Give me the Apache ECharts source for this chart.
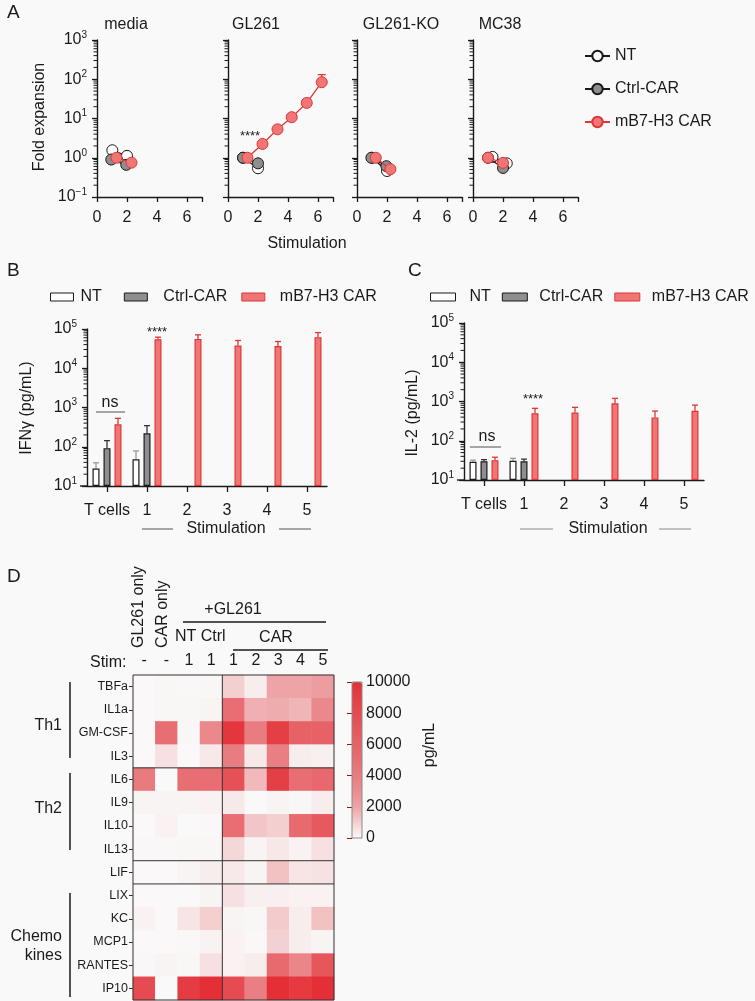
<!DOCTYPE html>
<html><head><meta charset="utf-8">
<script src="https://cdn.jsdelivr.net/npm/echarts@6/dist/echarts.min.js"></script>
<style>html,body{margin:0;padding:0;background:#f9f9f9}#c{width:755px;height:1001px}</style>
</head><body><div id="c"></div>
<script>
// ===== Panel A: fold expansion, points are [stimulation, fold] =====
const aTitles = ['media', 'GL261', 'GL261-KO', 'MC38'];
const mediaNT   = [[1.02, 1.55], [2.0, 1.12]];
const mediaCtrl = [[0.95, 0.9], [1.95, 0.66]];
const mediaCAR  = [[1.3, 1.0], [2.3, 0.75]];
const glNT      = [[1.0, 1.0], [2.0, 0.54]];
const glCtrl    = [[1.0, 1.0], [2.0, 0.72]];
const glCAR     = [[1.3, 1.0], [2.3, 2.25], [3.3, 5.3], [4.25, 10.8], [5.25, 25], [6.25, 84]];
const glCARErr  = [[6.25, 84, 131]];
const koNT      = [[1.0, 1.0], [2.0, 0.46]];
const koCtrl    = [[0.96, 1.0], [1.96, 0.61]];
const koCAR     = [[1.25, 1.0], [2.23, 0.51]];
const mcNT      = [[1.3, 1.05], [2.25, 0.72]];
const mcCtrl    = [[1.0, 1.0], [2.0, 0.55]];
const mcCAR     = [[1.0, 1.0], [2.0, 0.74]];
const aXTicks = [0, 2, 4, 6];

// ===== Panels B / C: cytokines (pg/mL) =====
const bcCats = ['T cells', '1', '2', '3', '4', '5'];
const ifnNT      = [28, 48, null, null, null, null];
const ifnNTErr   = [39, 78, null, null, null, null];
const ifnCtrl    = [92, 220, null, null, null, null];
const ifnCtrlErr = [143, 345, null, null, null, null];
const ifnCAR     = [375, 55000, 56000, 38000, 37000, 62000];
const ifnCARErr  = [530, 62000, 71000, 51000, 48000, 81000];
const il2NT      = [29, 31, null, null, null, null];
const il2NTErr   = [32, 35.5, null, null, null, null];
const il2Ctrl    = [30, 30, null, null, null, null];
const il2CtrlErr = [33, 34, null, null, null, null];
const il2CAR     = [32, 500, 525, 900, 394, 580];
const il2CARErr  = [38, 670, 710, 1200, 570, 810];

// ===== Panel D: heatmap (pg/mL) =====
const heatCols = ['-', '-', '1', '1', '1', '2', '3', '4', '5'];
const heatRows = ['TBFa', 'IL1a', 'GM-CSF', 'IL3', 'IL6', 'IL9', 'IL10', 'IL13', 'LIF', 'LIX', 'KC', 'MCP1', 'RANTES', 'IP10'];
const th1Values = [
  [50, 100, 80, 100, 1000, 300, 2000, 2000, 2300],
  [50, 100, 100, 150, 5000, 1700, 1800, 1600, 3300],
  [50, 5000, 100, 3300, 9500, 4000, 9000, 6000, 6000],
  [50, 600, 50, 400, 4000, 400, 3800, 300, 250]
];
const th2Values = [
  [4100, 20, 5000, 5000, 7500, 1500, 9000, 5000, 5500],
  [150, 150, 150, 200, 400, 50, 150, 100, 300],
  [50, 200, 30, 80, 5000, 1200, 1000, 5300, 6800],
  [80, 80, 100, 100, 800, 150, 450, 200, 600]
];
const lifValues = [
  [50, 50, 150, 300, 400, 150, 1300, 500, 550]
];
const chemoValues = [
  [50, 50, 50, 150, 600, 250, 250, 200, 200],
  [200, 50, 500, 1000, 150, 100, 1100, 300, 1300],
  [50, 50, 80, 200, 200, 80, 950, 300, 150],
  [80, 150, 100, 600, 200, 300, 5300, 3500, 7000],
  [8000, 20, 9200, 10000, 8000, 3800, 10000, 9300, 10000]
];
const colorbarTicks = [0, 2000, 4000, 6000, 8000, 10000];

// ===== styling / layout =====
const FONT = 'Liberation Sans, Arial, Helvetica, sans-serif';
const INK = '#1a1a1a';
const RED_FILL = '#f07676', RED_EDGE = '#dc3636', GREY_FILL = '#8e8e8e';
const NAMES = ['NT', 'Ctrl-CAR', 'mB7-H3 CAR'];
const aLefts = [97, 228, 357, 473];
const aTitleX = [126, 256, 401, 500];
const HM = {left: 133, top: 675, width: 201, height: 325};
const CB = {left: 352, top: 682, width: 10, height: 156};

const aNT = [mediaNT, glNT, koNT, mcNT];
const aCtrl = [mediaCtrl, glCtrl, koCtrl, mcCtrl];
const aCAR = [mediaCAR, glCAR, koCAR, mcCAR];
const aErr = [[], glCARErr, [], []];

const supFmt = v => {
  const e = Math.round(Math.log10(v));
  return '{b|10}{s|' + (e < 0 ? '\u2212' + (-e) : e) + '}';
};
const supRich = {
  b: {fontSize: 16, fontFamily: FONT, color: INK, lineHeight: 20},
  s: {fontSize: 10, fontFamily: FONT, color: INK, lineHeight: 10, verticalAlign: 'top'}
};
const axLine = {show: true, onZero: false, lineStyle: {color: INK, width: 1.4}};
const axTick = {show: true, length: 5, lineStyle: {color: INK, width: 1.3}};
// log-axis minor tick positions (2..9 x each decade)
function logMinor(lo, hi) {
  const out = [];
  for (let e = Math.round(Math.log10(lo)); e < Math.round(Math.log10(hi)); e++) {
    for (let m = 2; m <= 9; m++) out.push(+(m * Math.pow(10, e)).toPrecision(6));
  }
  return out;
}

const grids = [], xAxes = [], yAxes = [], series = [];
const minorSpecs = []; // [axis index, grid left, lo, hi]
aLefts.forEach((l, i) => {
  grids.push({left: l, top: 40, width: 105, height: 157, outerBoundsMode: 'none'});
  xAxes.push({gridIndex: i, type: 'value', min: 0, max: 7, interval: 2,
    axisLine: axLine, axisTick: axTick, splitLine: {show: false},
    axisLabel: {fontSize: 16, fontFamily: FONT, color: INK, margin: 13,
      customValues: aXTicks}});
  yAxes.push({gridIndex: i, type: 'log', logBase: 10, min: 0.1, max: 1000,
    axisLine: axLine, axisTick: axTick, splitLine: {show: false},
    axisLabel: {show: i === 0, margin: 10, formatter: supFmt, rich: supRich}});
  minorSpecs.push([i, l, 0.1, 1000]);
});
// B, C
const bcLefts = [87, 464];
grids.push({left: 87, top: 329, width: 240, height: 157, outerBoundsMode: 'none'});
grids.push({left: 464, top: 323, width: 240, height: 157, outerBoundsMode: 'none'});
[4, 5].forEach((g, j) => {
  xAxes.push({gridIndex: g, type: 'category', data: bcCats,
    axisLine: axLine, axisTick: {show: true, alignWithLabel: true, length: 6, lineStyle: {color: INK, width: 1.3}},
    axisLabel: {fontSize: 16, fontFamily: FONT, color: INK, margin: 17, interval: 0}});
  yAxes.push({gridIndex: g, type: 'log', logBase: 10, min: 10, max: 100000, startValue: 10,
    axisLine: axLine, axisTick: axTick, splitLine: {show: false},
    axisLabel: {margin: 10, formatter: supFmt, rich: supRich}});
  minorSpecs.push([g, bcLefts[j], 10, 100000]);
});
// heatmap
grids.push(Object.assign({outerBoundsMode: 'none'}, HM));
xAxes.push({gridIndex: 6, type: 'category', data: heatCols, position: 'top',
  axisLine: {show: false}, axisTick: {show: false}, splitLine: {show: false},
  axisLabel: {fontSize: 16, fontFamily: FONT, color: INK, margin: 6, interval: 0}});
yAxes.push({gridIndex: 6, type: 'category', data: heatRows, inverse: true,
  axisLine: {show: false}, splitLine: {show: false},
  axisTick: {show: true, alignWithLabel: true, length: 4, lineStyle: {color: '#333'}},
  axisLabel: {fontSize: 12.5, fontFamily: FONT, color: INK, margin: 5, interval: 0}});
// colorbar axis
grids.push(Object.assign({outerBoundsMode: 'none'}, CB));
xAxes.push({gridIndex: 7, type: 'value', show: false, min: 0, max: 1});
yAxes.push({gridIndex: 7, type: 'value', min: 0, max: 10000, interval: 2000, position: 'right',
  axisLine: {show: false}, splitLine: {show: false},
  axisTick: {show: true, inside: true, length: 5, lineStyle: {color: '#8a1c1c', width: 1}},
  axisLabel: {fontSize: 16, fontFamily: FONT, color: INK, margin: 4, customValues: colorbarTicks,
    formatter: v => String(v)}});

// Panel A series
const ptStyles = [
  {color: '#ffffff', borderColor: INK, line: INK},
  {color: GREY_FILL, borderColor: INK, line: INK},
  {color: RED_FILL, borderColor: RED_EDGE, line: RED_EDGE}
];
for (let i = 0; i < 4; i++) {
  [aNT[i], aCtrl[i], aCAR[i]].forEach((d, k) => {
    series.push({type: 'line', name: NAMES[k], xAxisIndex: i, yAxisIndex: i, data: d,
      symbol: 'circle', symbolSize: 11, z: 3 + k,
      lineStyle: {color: ptStyles[k].line, width: 1.3},
      itemStyle: {color: ptStyles[k].color, borderColor: ptStyles[k].borderColor, borderWidth: 1},
      emphasis: {disabled: true}, animation: false});
  });
  if (aErr[i].length) {
    series.push({type: 'custom', xAxisIndex: i, yAxisIndex: i, data: aErr[i], z: 2,
      renderItem: (p, api) => {
        const a = api.coord([api.value(0), api.value(1)]);
        const b = api.coord([api.value(0), api.value(2)]);
        return {type: 'group', children: [
          {type: 'line', shape: {x1: a[0], y1: a[1], x2: b[0], y2: b[1]}, style: {stroke: RED_EDGE, lineWidth: 1.3}},
          {type: 'line', shape: {x1: b[0] - 4, y1: b[1], x2: b[0] + 4, y2: b[1]}, style: {stroke: RED_EDGE, lineWidth: 1.3}}
        ]};
      }, animation: false});
  }
}

// Panels B / C series
const barStyles = [
  {color: '#ffffff', borderColor: INK, err: '#9a9a9a'},
  {color: GREY_FILL, borderColor: INK, err: '#333333'},
  {color: RED_FILL, borderColor: RED_EDGE, err: RED_EDGE}
];
function errRender(slot, color) {
  return (params, api) => {
    const c = api.value(0), v = api.value(1), e = api.value(2);
    const band = api.size([1, 0])[0];
    const off = (slot - 1) * band * 0.275;
    const p = api.coord([c, v]), q = api.coord([c, e]);
    const x = p[0] + off;
    return {type: 'group', children: [
      {type: 'line', shape: {x1: x, y1: p[1], x2: x, y2: q[1]}, style: {stroke: color, lineWidth: 1.3}},
      {type: 'line', shape: {x1: x - 3, y1: q[1], x2: x + 3, y2: q[1]}, style: {stroke: color, lineWidth: 1.3}}
    ]};
  };
}
[[4, [ifnNT, ifnCtrl, ifnCAR], [ifnNTErr, ifnCtrlErr, ifnCARErr]],
 [5, [il2NT, il2Ctrl, il2CAR], [il2NTErr, il2CtrlErr, il2CARErr]]].forEach(([g, vals, errs]) => {
  vals.forEach((v, k) => {
    series.push({type: 'bar', name: NAMES[k], xAxisIndex: g, yAxisIndex: g, data: v,
      barWidth: 7, barGap: '57%', clip: true,
      itemStyle: {color: barStyles[k].color, borderColor: barStyles[k].borderColor, borderWidth: 1.2},
      emphasis: {disabled: true}, animation: false});
  });
  vals.forEach((v, k) => {
    const d = [];
    v.forEach((y, c) => { if (y != null) d.push([c, y, errs[k][c]]); });
    series.push({type: 'custom', xAxisIndex: g, yAxisIndex: g, data: d, z: 1,
      renderItem: errRender(k, barStyles[k].err), animation: false});
  });
});

// heatmap series
const allHeat = th1Values.concat(th2Values, lifValues, chemoValues);
const heatData = [];
allHeat.forEach((row, r) => row.forEach((v, c) => heatData.push([c, r, v])));
const heatIdx = series.length;
series.push({type: 'heatmap', xAxisIndex: 6, yAxisIndex: 6, data: heatData,
  emphasis: {disabled: true}, animation: false});

const legendText = {fontSize: 16, fontFamily: FONT, color: INK};
const rectItem = (k, ts) => ({name: NAMES[k], icon: 'rect',
  itemStyle: {color: barStyles[k].color, borderColor: barStyles[k].borderColor, borderWidth: 1},
  textStyle: ts});
const option = {
  backgroundColor: '#f9f9f9',
  animation: false,
  textStyle: {fontFamily: FONT},
  grid: grids, xAxis: xAxes, yAxis: yAxes, series: series,
  visualMap: {type: 'continuous', seriesIndex: heatIdx, min: 0, max: 10000,
    left: CB.left, top: CB.top, itemWidth: CB.width, itemHeight: CB.height, padding: 0,
    calculable: false, hoverLink: false,
    inRange: {color: ['#fafafa', '#f3cfd0', '#eea3a6', '#eb8d91', '#e97c80', '#e86e73',
      '#e76267', '#e6575c', '#e54b51', '#e43f45', '#e32f35']}},
  legend: [
    {orient: 'vertical', left: 584, top: 48, padding: 0, itemWidth: 25, itemHeight: 13, itemGap: 17,
      selectedMode: false, textStyle: legendText, data: NAMES},
    {left: 50, top: 289, padding: 0, itemWidth: 23, itemHeight: 8, itemGap: 14, selectedMode: false,
      formatter: n => (n === 'NT' ? 'NT\u2002' : n),
      textStyle: legendText, data: [rectItem(0, {padding: [0, 0, 0, 2]}),
        rectItem(1, {padding: [0, 0, 0, 11]}), rectItem(2, {padding: [0, 0, 0, 10]})]},
    {left: 430, top: 289, right: 0, padding: 0, itemWidth: 25, itemHeight: 8, itemGap: 11, selectedMode: false,
      textStyle: legendText, data: [rectItem(0, {padding: [0, 0, 0, 9]}), rectItem(1, {padding: [0, 0, 0, 7]}),
        rectItem(2, {padding: [0, 0, 0, 7]})]}
  ]
};

const chart = echarts.init(document.getElementById('c'), null, {renderer: 'canvas'});
chart.setOption(option);

// ===== annotations =====
function txt(t, x, y, o) {
  o = o || {};
  return {type: 'text', x: x, y: y, rotation: o.rot || 0, z: 100,
    style: {text: t, fontSize: o.size || 16, fontFamily: FONT, fill: o.color || INK,
      align: o.align || 'center', textAlign: o.align || 'center',
      verticalAlign: o.va || 'middle', textVerticalAlign: o.va || 'middle'}};
}
function ln(x1, y1, x2, y2, color, w) {
  return {type: 'line', z: 100, shape: {x1: x1, y1: y1, x2: x2, y2: y2},
    style: {stroke: color || INK, lineWidth: w || 1.3}};
}
const px = (c, r) => chart.convertToPixel({xAxisIndex: 6, yAxisIndex: 6}, [c, r]);
const rowB = r => (px(0, r)[1] + px(0, r + 1)[1]) / 2;
const colB = (px(3, 0)[0] + px(4, 0)[0]) / 2;
const R = Math.PI / 2;
const g = [
  txt('A', 7, 13, {size: 19, align: 'left'}),
  txt('B', 7, 271, {size: 19, align: 'left'}),
  txt('C', 408, 271, {size: 19, align: 'left'}),
  txt('D', 7, 577, {size: 19, align: 'left'}),
  txt('Fold expansion', 40, 117, {rot: R}),
  txt('Stimulation', 307, 244),
  txt('****', 250, 136, {size: 13}),
  txt('IFN\u03b3 (pg/mL)', 27, 408, {rot: R}),
  txt('ns', 110, 403),
  ln(96, 412, 125, 412, '#777'),
  txt('****', 157, 332, {size: 13}),
  txt('Stimulation', 226, 529),
  ln(142, 529, 173, 529, '#555', 1), ln(279, 529, 311, 529, '#555', 1),
  ln(80, 486, 88, 486, INK, 1.4),
  txt('IL-2 (pg/mL)', 413, 413, {rot: R}),
  txt('ns', 487, 437),
  ln(470, 447, 501, 447, '#777'),
  txt('****', 533, 399, {size: 13}),
  txt('Stimulation', 608, 529),
  ln(520, 529, 553, 529, '#888', 1), ln(659, 529, 691, 529, '#888', 1),
  ln(457, 480, 465, 480, INK, 1.4),
  // heatmap headers
  txt('GL261 only', 139, 648, {rot: R, align: 'left'}),
  txt('CAR only', 163, 648, {rot: R, align: 'left'}),
  txt('+GL261', 233, 610),
  ln(183, 622, 326, 622, INK, 1.3),
  txt('NT Ctrl', 175, 637, {align: 'left'}),
  txt('CAR', 276, 638),
  ln(233, 650, 328, 650, INK, 1.3),
  txt('Stim:', 90, 663, {align: 'left'}),
  txt('Th1', 62, 726, {align: 'right'}),
  ln(70, 682, 70, 758, INK, 1.5),
  txt('Th2', 62, 809, {align: 'right'}),
  ln(70, 773, 70, 850, INK, 1.5),
  txt('Chemo', 62, 937, {align: 'right'}),
  txt('kines', 62, 956, {align: 'right'}),
  ln(70, 893, 70, 997, INK, 1.5),
  txt('pg/mL', 430, 745, {rot: R}),
  // heatmap frame and separators
  {type: 'rect', z: 100, shape: {x: HM.left, y: HM.top, width: HM.width, height: HM.height},
    style: {fill: 'none', stroke: '#333', lineWidth: 1}},
  ln(colB, HM.top, colB, HM.top + HM.height, '#333', 1),
  ln(HM.left, rowB(3), HM.left + HM.width, rowB(3), '#333', 1),
  ln(HM.left, rowB(7), HM.left + HM.width, rowB(7), '#333', 1),
  ln(HM.left, rowB(8), HM.left + HM.width, rowB(8), '#333', 1),
  {type: 'rect', z: 100, shape: {x: CB.left, y: CB.top, width: CB.width, height: CB.height},
    style: {fill: 'none', stroke: '#8a8a8a', lineWidth: 1}}
].concat(aTitles.map((t, i) => txt(t, aTitleX[i], 25)));
// log minor ticks, placed through each log axis's own scale
minorSpecs.forEach(([ai, left, lo, hi]) => {
  logMinor(lo, hi).forEach(v => {
    const y = chart.convertToPixel({yAxisIndex: ai}, v);
    if (isFinite(y)) g.push(ln(left - 3.5, y, left, y, INK, 1));
  });
});
chart.setOption({graphic: g});
</script></body></html>
